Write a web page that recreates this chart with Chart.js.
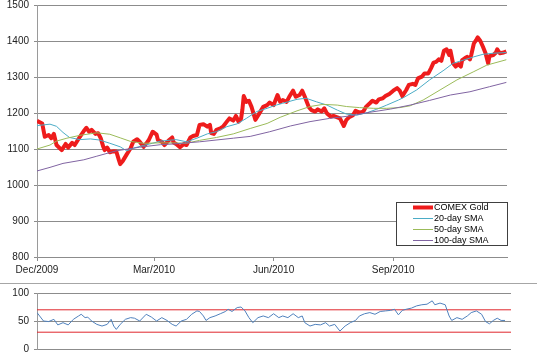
<!DOCTYPE html>
<html><head><meta charset="utf-8">
<script src="https://cdn.jsdelivr.net/npm/chart.js@4.4.1/dist/chart.umd.min.js"></script>
<style>
html,body{margin:0;padding:0;background:#fff;}
#wrap{position:relative;width:537px;height:356px;overflow:hidden;background:#fff;}
#top{position:absolute;left:0;top:0;}
#sep{position:absolute;left:0;top:283px;width:537px;height:1px;background:#a6a6a6;}
#bot{position:absolute;left:0;top:284px;}
</style></head><body>
<div id="wrap"><canvas id="top" width="537" height="283"></canvas><div id="sep"></div><canvas id="bot" width="537" height="72"></canvas></div>
<script>
// ---- data (x = calendar days since 1 Dec 2009) ----
const tickDays = [0, 90, 182, 274];
const tickLabels = ['Dec/2009', 'Mar/2010', 'Jun/2010', 'Sep/2010'];
const seriesNames = ['COMEX Gold', '20-day SMA', '50-day SMA', '100-day SMA'];

const goldDays = [0,4,6,9,11,13,15,19,22,24,27,29,33,36,38,40,42,45,47,49,51,52,54,56,59,61,63,64,66,69,72,74,77,79,82,84,86,89,92,93,96,98,101,104,105,107,110,113,115,118,120,123,125,128,131,133,134,136,138,141,143,146,148,151,153,155,157,158,159,161,163,165,168,171,174,177,179,182,185,187,189,192,194,197,199,202,204,206,209,211,214,216,219,221,223,226,228,231,233,236,238,240,243,245,248,251,253,256,258,261,263,266,268,271,274,277,279,281,284,286,289,291,293,296,298,301,303,305,307,309,311,313,315,317,318,320,322,324,326,327,329,331,333,334,336,338,339,341,343,345,347,348,351,353,354,356,359,361];
const goldPrices = [1178,1171,1134,1139,1130,1142,1111,1097,1114,1104,1117,1111,1134,1150,1159,1148,1153,1142,1144,1130,1106,1097,1104,1091,1094,1093,1069,1058,1067,1085,1102,1120,1127,1120,1106,1115,1125,1148,1140,1125,1120,1111,1123,1132,1118,1114,1105,1114,1111,1132,1136,1139,1167,1169,1162,1167,1144,1142,1153,1157,1162,1176,1185,1179,1192,1176,1185,1210,1247,1231,1234,1217,1181,1199,1217,1222,1229,1222,1250,1231,1236,1231,1245,1262,1245,1250,1262,1245,1217,1208,1204,1210,1204,1213,1199,1190,1192,1188,1185,1164,1181,1188,1194,1206,1201,1204,1217,1227,1234,1229,1238,1241,1247,1253,1262,1269,1262,1247,1264,1278,1281,1278,1296,1301,1310,1310,1324,1340,1342,1349,1345,1373,1377,1361,1373,1338,1329,1336,1329,1347,1352,1356,1349,1361,1393,1404,1410,1400,1384,1366,1338,1358,1361,1368,1377,1366,1368,1371];

const sma20Days = [0,10,15,20,25,33,41,48,56,64,69,74,82,89,95,107,115,123,131,138,146,154,161,169,177,184,189,200,207,215,223,231,238,246,254,261,269,278,282,292,302,313,320,328,336,343,351,361];
const sma20Values = [1165,1169,1163,1146,1132,1126,1128,1125,1116,1106,1095,1102,1110,1116,1122,1126,1120,1130,1142,1148,1162,1170,1185,1204,1213,1222,1227,1238,1241,1231,1222,1208,1197,1194,1201,1210,1222,1236,1243,1264,1292,1319,1338,1347,1356,1363,1366,1368];

const sma50Days = [0,10,15,23,33,46,56,64,72,82,95,105,115,125,138,151,164,177,187,200,210,220,231,238,248,259,269,279,287,297,310,323,336,346,361];
const sma50Values = [1100,1111,1122,1130,1138,1145,1141,1131,1121,1116,1117,1117,1116,1124,1132,1142,1157,1171,1188,1206,1218,1224,1222,1218,1215,1213,1213,1215,1220,1236,1264,1292,1315,1333,1348];

const sma100Days = [0,10,20,36,46,61,79,95,105,125,151,164,179,195,210,225,241,256,272,287,302,318,333,348,361];
const sma100Values = [1039,1049,1060,1070,1080,1095,1105,1112,1114,1120,1130,1135,1148,1164,1176,1185,1192,1202,1211,1222,1235,1250,1259,1273,1285];

const rsiDays = [0,2,5,9,13,16,20,24,28,32,34,37,39,42,46,50,54,57,59,61,64,68,72,75,79,84,88,92,96,100,104,107,111,115,119,123,125,128,130,133,137,141,145,147,150,154,157,160,163,166,170,174,178,182,186,189,193,197,201,204,206,210,214,218,222,225,229,233,237,241,245,248,252,256,260,264,268,272,275,278,281,284,288,292,296,300,304,306,310,314,317,319,323,327,331,334,338,342,345,348,351,354,357,360];
const rsiValues = [65,59,50,49,53,43,47,43,53,59,62,56,57,50,44,41,44,53,41,35,44,53,56,55,50,62,57,50,56,51,44,41,50,53,62,68,67,59,51,56,59,63,67,71,67,74,75,68,56,47,56,59,56,63,56,59,56,63,56,59,47,41,44,43,47,41,44,32,41,47,51,59,63,65,62,67,68,69,71,61,69,71,73,77,79,80,86,79,82,79,59,51,56,53,59,65,68,62,49,45,51,55,51,51];
const rsiBands = [30, 70];

// ---- helpers ----
const pts = (xs, ys) => xs.map((x, i) => ({ x: x, y: ys[i] }));
const FONT = 'Liberation Sans, Arial, Helvetica, sans-serif';
Chart.defaults.font.family = FONT;
Chart.defaults.font.size = 10;
Chart.defaults.color = '#222';
const GRID = '#8c8c8c';

const boxLegend = {
  id: 'boxLegend',
  afterDraw(chart) {
    const ctx = chart.ctx;
    const L = 396, T = 202, W = 111, H = 43;
    ctx.save();
    ctx.fillStyle = '#fff';
    ctx.fillRect(L, T, W, H);
    ctx.strokeStyle = '#404040';
    ctx.lineWidth = 1;
    ctx.strokeRect(L + 0.5, T + 0.5, W, H);
    ctx.font = '9px ' + FONT;
    ctx.textBaseline = 'middle';
    ctx.fillStyle = '#000';
    chart.data.datasets.forEach((ds, i) => {
      const y = 207.5 + i * 11;
      ctx.strokeStyle = ds.borderColor;
      ctx.lineWidth = ds.borderWidth;
      ctx.beginPath();
      ctx.moveTo(413, y);
      ctx.lineTo(433, y);
      ctx.stroke();
      ctx.fillText(ds.label, 434, y + 0.5);
    });
    ctx.restore();
  }
};

new Chart(document.getElementById('top'), {
  type: 'line',
  data: {
    datasets: [
      { label: seriesNames[0], data: pts(goldDays, goldPrices), borderColor: '#ee1c1c', borderWidth: 4, borderJoinStyle: 'round', order: 5 },
      { label: seriesNames[1], data: pts(sma20Days, sma20Values), borderColor: '#4BACC6', borderWidth: 1, order: 3 },
      { label: seriesNames[2], data: pts(sma50Days, sma50Values), borderColor: '#9BBB59', borderWidth: 1, order: 2 },
      { label: seriesNames[3], data: pts(sma100Days, sma100Values), borderColor: '#8064A2', borderWidth: 1, order: 1 }
    ]
  },
  options: {
    responsive: false, animation: false, devicePixelRatio: 1,
    layout: { padding: { left: 0, right: 30, top: 5, bottom: 0 } },
    elements: { point: { radius: 0 }, line: { tension: 0 } },
    plugins: { legend: { display: false }, tooltip: { enabled: false } },
    scales: {
      x: {
        type: 'linear', min: 0, max: 361.5,
        afterBuildTicks(s) { s.ticks = tickDays.map(v => ({ value: v })); },
        ticks: { callback: (v) => tickLabels[tickDays.indexOf(v)], maxRotation: 0, autoSkip: false, padding: 3, color: '#222' },
        grid: { drawOnChartArea: false, tickLength: 4, color: GRID },
        border: { color: GRID },
        afterFit(s) { s.height = 26; s.paddingLeft = 0; s.paddingRight = 0; }
      },
      y: {
        min: 800, max: 1500,
        ticks: { stepSize: 100, padding: 5, color: '#222', callback: v => String(v) },
        grid: { color: GRID, tickLength: 3 },
        border: { color: '#9a9a9a' },
        afterFit(s) { s.width = 37; s.paddingTop = 0; s.paddingBottom = 0; }
      }
    }
  },
  plugins: [boxLegend]
});

const botMax = 364.6;
new Chart(document.getElementById('bot'), {
  type: 'line',
  data: {
    datasets: [
      { label: 'RSI', data: pts(rsiDays, rsiValues), borderColor: '#4F81BD', borderWidth: 1, order: 1 },
      { label: 'Upper', data: [{ x: 0, y: rsiBands[1] }, { x: botMax, y: rsiBands[1] }], borderColor: '#e0262c', borderWidth: 1, order: 2 },
      { label: 'Lower', data: [{ x: 0, y: rsiBands[0] }, { x: botMax, y: rsiBands[0] }], borderColor: '#e0262c', borderWidth: 1, order: 2 }
    ]
  },
  options: {
    responsive: false, animation: false, devicePixelRatio: 1,
    layout: { padding: { left: 0, right: 26, top: 9, bottom: 7 } },
    elements: { point: { radius: 0 }, line: { tension: 0 } },
    plugins: { legend: { display: false }, tooltip: { enabled: false } },
    scales: {
      x: { type: 'linear', min: 0, max: botMax, display: false },
      y: {
        min: 0, max: 100,
        ticks: { stepSize: 50, padding: 5, color: '#222', callback: v => String(v) },
        grid: { color: GRID, tickLength: 3 },
        border: { color: '#9a9a9a' },
        afterFit(s) { s.width = 37; s.paddingTop = 0; s.paddingBottom = 0; }
      }
    }
  }
});
</script>
</body></html>
